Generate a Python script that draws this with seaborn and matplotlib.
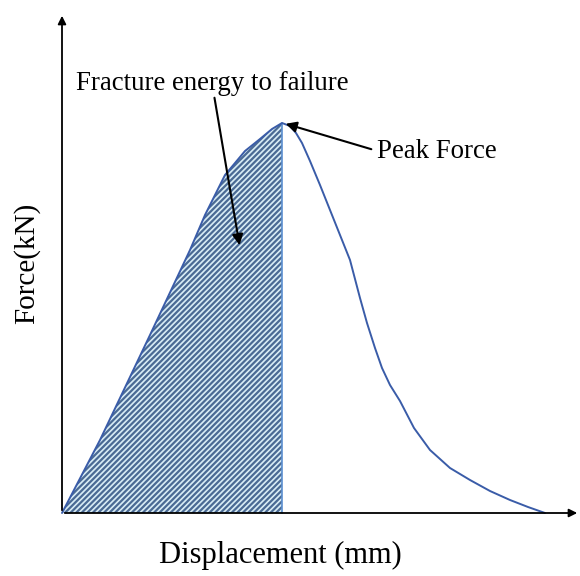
import numpy as np
import pandas as pd
import seaborn as sns
import matplotlib.pyplot as plt

sns.set_style("white")
plt.rcParams['font.family'] = ['Liberation Serif', 'DejaVu Serif']
plt.rcParams['hatch.linewidth'] = 1.6

# displacement / force (arbitrary units)
disp = [0, 38, 88, 128, 143, 153, 163, 183, 198, 210, 220, 228, 234, 240, 248, 258, 272, 288,
        298, 305, 313, 320, 328, 338, 352, 368, 388, 408, 428, 448, 466, 483]
force = [0, 73, 178, 263, 298, 318, 338, 362, 374, 384, 390, 387, 380, 370, 352, 328, 293, 253,
         215, 190, 165, 145, 128, 112, 85, 63, 45, 33, 22, 13, 6, 0]
peak_idx = 10

df = pd.DataFrame({"disp": disp, "force": force})

fig = plt.figure(figsize=(5.8, 5.76), dpi=100)
ax = fig.add_axes([0, 0, 1, 1])
ax.set_xlim(-62, 518)
ax.set_ylim(-63, 513)
ax.axis("off")

pre = df.iloc[:peak_idx + 1]
ax.fill_between(pre["disp"], pre["force"], 0, facecolor="#d8ecf5",
                edgecolor="#4a6a94", hatch="//////", linewidth=0)
ax.plot([pre["disp"].iloc[-1]] * 2, [0, pre["force"].iloc[-1]],
        color="#5b8fd0", lw=1.2)
sns.lineplot(data=df, x="disp", y="force", ax=ax, color="#3a5ca8", lw=1.4, sort=False)

# axes arrows
ax.annotate("", xy=(518, 0), xytext=(0, 0),
            arrowprops=dict(arrowstyle="-|>", color="black", lw=1.3, mutation_scale=12))
ax.annotate("", xy=(0, 500), xytext=(0, 0),
            arrowprops=dict(arrowstyle="-|>", color="black", lw=1.3, mutation_scale=12))

ax.text(14, 430, "Fracture energy to failure", fontsize=19.4, va="center", color="black")
ax.annotate("", xy=(178, 265), xytext=(152, 418),
            arrowprops=dict(arrowstyle="-|>", color="black", lw=1.5, mutation_scale=16))
ax.text(315, 361, "Peak Force", fontsize=19.4, va="center", color="black")
ax.annotate("", xy=(221, 390), xytext=(312, 363),
            arrowprops=dict(arrowstyle="-|>", color="black", lw=1.5, mutation_scale=16))

ax.text(218, -42, "Displacement (mm)", fontsize=22, ha="center", va="center", color="black")
ax.text(-35, 250, "Force(kN)", fontsize=21, ha="center", va="center", rotation=90, color="black")

fig.savefig("out.png", dpi=100)
